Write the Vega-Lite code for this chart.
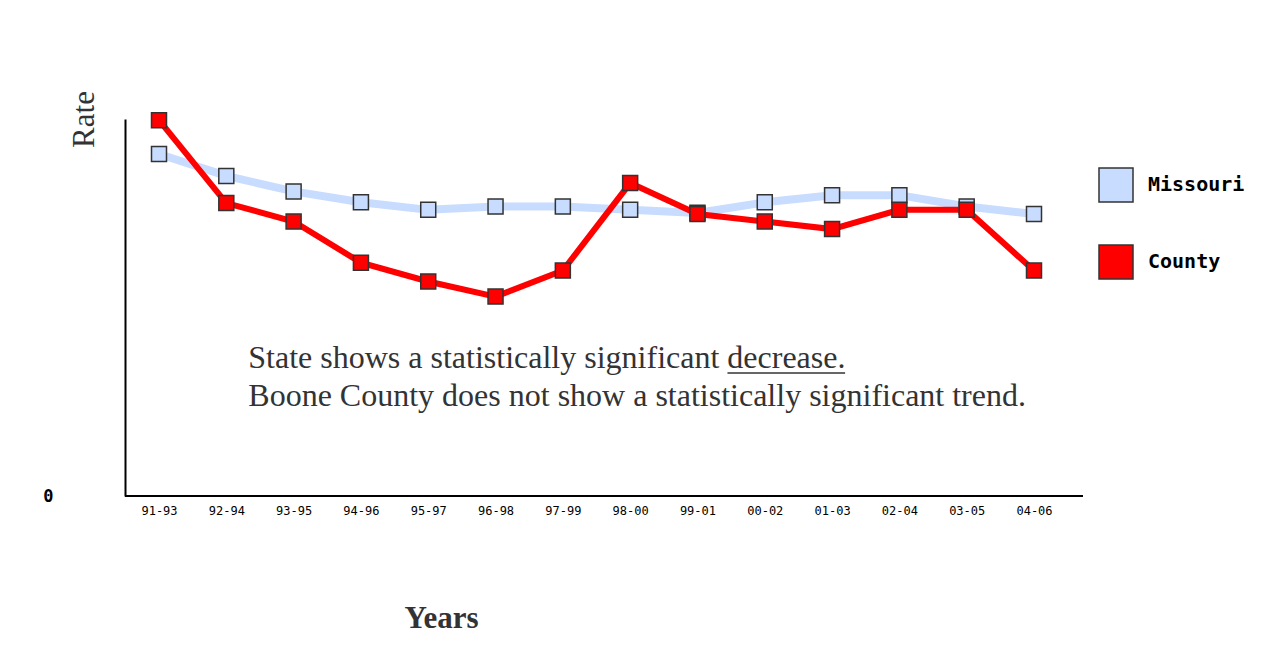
{
  "$schema": "https://vega.github.io/schema/vega-lite/v6.json",
  "width": 958,
  "height": 377,
  "autosize": "none",
  "padding": {"left": 125, "top": 119, "right": 205, "bottom": 151},
  "background": "white",
  "config": {"view": {"stroke": null}},
  "datasets": {
    "rates": [
      {"period": "91-93", "series": "Missouri", "rate": 90.7},
      {"period": "92-94", "series": "Missouri", "rate": 84.9},
      {"period": "93-95", "series": "Missouri", "rate": 80.8},
      {"period": "94-96", "series": "Missouri", "rate": 77.9},
      {"period": "95-97", "series": "Missouri", "rate": 75.9},
      {"period": "96-98", "series": "Missouri", "rate": 76.8},
      {"period": "97-99", "series": "Missouri", "rate": 76.8},
      {"period": "98-00", "series": "Missouri", "rate": 75.9},
      {"period": "99-01", "series": "Missouri", "rate": 75.1},
      {"period": "00-02", "series": "Missouri", "rate": 77.9},
      {"period": "01-03", "series": "Missouri", "rate": 79.8},
      {"period": "02-04", "series": "Missouri", "rate": 79.8},
      {"period": "03-05", "series": "Missouri", "rate": 76.8},
      {"period": "04-06", "series": "Missouri", "rate": 74.8},
      {"period": "91-93", "series": "County", "rate": 99.7},
      {"period": "92-94", "series": "County", "rate": 77.7},
      {"period": "93-95", "series": "County", "rate": 72.8},
      {"period": "94-96", "series": "County", "rate": 61.9},
      {"period": "95-97", "series": "County", "rate": 56.9},
      {"period": "96-98", "series": "County", "rate": 52.9},
      {"period": "97-99", "series": "County", "rate": 59.8},
      {"period": "98-00", "series": "County", "rate": 83.0},
      {"period": "99-01", "series": "County", "rate": 74.8},
      {"period": "00-02", "series": "County", "rate": 72.8},
      {"period": "01-03", "series": "County", "rate": 70.8},
      {"period": "02-04", "series": "County", "rate": 75.9},
      {"period": "03-05", "series": "County", "rate": 75.9},
      {"period": "04-06", "series": "County", "rate": 59.8}
    ],
    "note": [
      {"anchor": "92-94", "level": 34, "uStart": "99-01", "uEnd": "01-03", "uLevel": 32.6}
    ]
  },
  "layer": [
    {
      "data": {"name": "rates"},
      "transform": [{"filter": "datum.series === 'Missouri'"}],
      "mark": {"type": "line", "color": "#c8dcff", "strokeWidth": 8},
      "encoding": {
        "x": {
          "field": "period",
          "type": "ordinal",
          "sort": null,
          "scale": {"type": "point", "domain": ["91-93", "92-94", "93-95", "94-96", "95-97", "96-98", "97-99", "98-00", "99-01", "00-02", "01-03", "02-04", "03-05", "04-06"], "range": [34, 909], "padding": 0},
          "axis": {
            "title": "Years",
            "titleFont": "Liberation Serif",
            "titleFontSize": 31,
            "titleFontWeight": "bold",
            "titleColor": "#333333",
            "titleX": 316,
            "titleY": 131,
            "titleAlign": "center",
            "titleBaseline": "alphabetic",
            "domain": false,
            "ticks": false,
            "labelAngle": 0,
            "labelFont": "DejaVu Sans Mono",
            "labelFontSize": 12,
            "labelColor": "#000000",
            "labelPadding": 9,
            "grid": false
          }
        },
        "y": {
          "field": "rate",
          "type": "quantitative",
          "scale": {"domain": [0, 100], "nice": false},
          "axis": {
            "title": "Rate",
            "titleFont": "Liberation Serif",
            "titleFontSize": 31,
            "titleFontWeight": "normal",
            "titleColor": "#333333",
            "titleAngle": -90,
            "titleX": -32,
            "titleY": 0,
            "titleAlign": "center",
            "titleBaseline": "alphabetic",
            "values": [0],
            "ticks": false,
            "grid": false,
            "domain": true,
            "domainColor": "#000000",
            "domainWidth": 2,
            "labelFont": "DejaVu Sans Mono",
            "labelFontWeight": "bold",
            "labelFontSize": 17,
            "labelColor": "#000000",
            "labelPadding": 72
          }
        }
      }
    },
    {
      "data": {"name": "rates"},
      "transform": [{"filter": "datum.series === 'Missouri'"}],
      "mark": {"type": "point", "shape": "square", "filled": true, "size": 225, "stroke": "#333333", "strokeWidth": 1.5, "opacity": 1},
      "encoding": {
        "x": {"field": "period", "type": "ordinal", "sort": null},
        "y": {"field": "rate", "type": "quantitative"},
        "fill": {
          "field": "series",
          "type": "nominal",
          "scale": {"domain": ["Missouri", "County"], "range": ["#c8dcff", "#ff0000"]},
          "legend": {
            "title": null,
            "orient": "none",
            "legendX": 973,
            "legendY": 48,
            "padding": 0,
            "symbolType": "square",
            "symbolSize": 1156,
            "symbolStrokeColor": "#333333",
            "symbolStrokeWidth": 1.5,
            "symbolOpacity": 1,
            "rowPadding": 37,
            "labelOffset": 14,
            "labelFont": "DejaVu Sans Mono",
            "labelFontWeight": "bold",
            "labelFontSize": 20,
            "labelColor": "#000000"
          }
        }
      }
    },
    {
      "data": {"name": "rates"},
      "transform": [{"filter": "datum.series === 'County'"}],
      "mark": {"type": "line", "color": "#ff0000", "strokeWidth": 6},
      "encoding": {
        "x": {"field": "period", "type": "ordinal", "sort": null},
        "y": {"field": "rate", "type": "quantitative"}
      }
    },
    {
      "data": {"name": "rates"},
      "transform": [{"filter": "datum.series === 'County'"}],
      "mark": {"type": "point", "shape": "square", "filled": true, "size": 225, "stroke": "#333333", "strokeWidth": 1.5, "opacity": 1},
      "encoding": {
        "x": {"field": "period", "type": "ordinal", "sort": null},
        "y": {"field": "rate", "type": "quantitative"},
        "fill": {"field": "series", "type": "nominal"}
      }
    },
    {
      "data": {"name": "note"},
      "mark": {"type": "rule", "color": "#000000", "strokeWidth": 2},
      "encoding": {"y": {"datum": 0}}
    },
    {
      "data": {"name": "note"},
      "mark": {
        "type": "text",
        "font": "Liberation Serif",
        "fontSize": 32,
        "lineHeight": 38,
        "align": "left",
        "baseline": "alphabetic",
        "color": "#333333",
        "dx": 22
      },
      "encoding": {
        "x": {"field": "anchor", "type": "ordinal"},
        "y": {"field": "level", "type": "quantitative"},
        "text": {"value": ["State shows a statistically significant decrease.", "Boone County does not show a statistically significant trend."]}
      }
    },
    {
      "data": {"name": "note"},
      "mark": {"type": "rule", "color": "#333333", "strokeWidth": 1.5, "xOffset": 30, "x2Offset": 13},
      "encoding": {
        "x": {"field": "uStart", "type": "ordinal"},
        "x2": {"field": "uEnd"},
        "y": {"field": "uLevel", "type": "quantitative"}
      }
    }
  ]
}
